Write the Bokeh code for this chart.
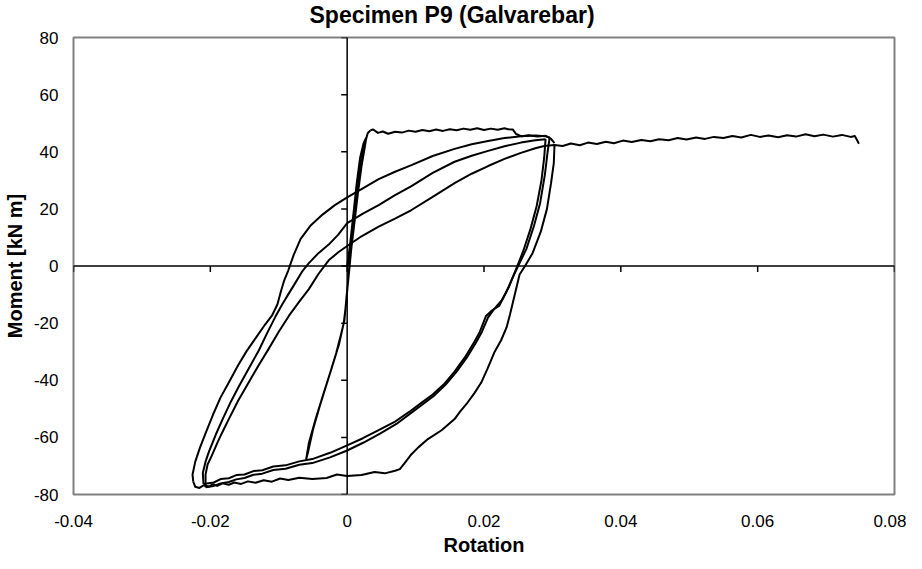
from bokeh.plotting import figure
from bokeh.models import Span, FixedTicker
from bokeh.embed import file_html
from bokeh.resources import INLINE

# ---------------- data (rotation [-], moment [kN m]) ----------------
elastic_rot = [0, 0.0004, 0.0009, 0.0014, 0.0019, 0.0024, 0.0028,
               0.0026, 0.0021, 0.0016, 0.0011, 0.0006, 0.0002, -0.0001, -0.0004, -0.0009,
               -0.0016, -0.0028, -0.004, -0.005, -0.0057, -0.006,
               -0.0056, -0.0046, -0.0035, -0.0023, -0.0012, -0.0005, -0.0001, 0.0002, 0.0005,
               0.001, 0.0015, 0.002, 0.0025, 0.003, 0.0034]
elastic_mom = [0, 7, 18, 29, 38, 43, 45,
               42, 35, 26, 16, 6, -4, -11, -19, -24,
               -30.5, -39.8, -49, -57.3, -65, -67.7,
               -62, -53.5, -45, -36, -27.5, -20, -12, -3, 5,
               15, 25, 35, 42, 46.5, 47.5]

push1_rot = [0.0034, 0.0038, 0.0045, 0.0052, 0.006, 0.007, 0.008, 0.009, 0.010, 0.011, 0.012,
             0.013, 0.014, 0.015, 0.016, 0.017, 0.018, 0.019, 0.020, 0.021, 0.022, 0.023,
             0.0235, 0.0242, 0.0247, 0.0255, 0.0265, 0.0278, 0.029, 0.0298, 0.0303]
push1_mom = [47.5, 47.8, 46.6, 47.1, 46.3, 47.0, 46.7, 47.4, 47.0, 47.6, 47.2,
             47.8, 47.3, 47.9, 47.5, 48.1, 47.7, 48.2, 47.6, 48.1, 47.7, 48.2,
             47.9, 47.8, 46.2, 45.4, 45.8, 45.3, 45.6, 44.5, 43]

pull1_rot = [0.0303, 0.0302, 0.0298, 0.0292, 0.0283, 0.0271, 0.026, 0.0252, 0.0245, 0.0238,
             0.0233, 0.0225, 0.0215, 0.0205, 0.0196, 0.0186, 0.0176, 0.0165, 0.0157, 0.0138,
             0.0118, 0.0104, 0.0094, 0.0084, 0.0077, 0.007, 0.0055, 0.004, 0.0021, 0, -0.0015,
             -0.003, -0.0051, -0.007, -0.0086, -0.0098, -0.011, -0.0122, -0.0134, -0.0145,
             -0.0155, -0.0165, -0.0173, -0.0182, -0.019, -0.0196, -0.0202, -0.021, -0.0216,
             -0.0222, -0.0225]
pull1_mom = [42, 36, 29, 20, 12, 4.5, 0, -3, -10, -17,
             -21.5, -26, -30.3, -36, -40.8, -44.5, -47.8, -51, -53.6, -57.5,
             -60.6, -63.5, -65.9, -69, -71.1, -71.7, -72.6, -72.1, -73.2, -73.5, -73.0,
             -74.2, -74.6, -74.1, -74.9, -74.4, -75.5, -75.0, -75.9, -75.4,
             -76.3, -75.8, -76.6, -76.1, -77.0, -76.4, -77.2, -76.8, -77.7,
             -77.3, -75.5]

push2_rot = [-0.0225, -0.0226, -0.0222, -0.0215, -0.0206, -0.0196, -0.0185, -0.0173, -0.016,
             -0.0147, -0.0133, -0.012, -0.011, -0.0102, -0.0097, -0.0092, -0.0086, -0.0078,
             -0.0068, -0.0053, -0.0036, -0.0018, 0, 0.0021, 0.0046, 0.007, 0.0094, 0.0125,
             0.0157, 0.0182, 0.0206, 0.023, 0.0254, 0.0275, 0.029, 0.0296]
push2_mom = [-75.5, -73, -68.5, -63.5, -58, -52, -46, -40.8, -35,
             -29.8, -25, -20.5, -17.4, -13.5, -9, -5, -1.5, 4,
             9.5, 14.3, 18, 21.3, 24, 26.9, 30.4, 33, 35.3, 38.5,
             41, 42.6, 43.8, 44.8, 45.4, 45.7, 45.4, 45]

pull2_rot = [0.0296, 0.0293, 0.0289, 0.0282, 0.0273, 0.0262, 0.0252, 0.0242, 0.0232, 0.0222,
             0.0212, 0.0203, 0.0194, 0.0186, 0.0172, 0.0157, 0.0141, 0.0125, 0.0108, 0.0094,
             0.007, 0.0046, 0.0023, 0, -0.0025, -0.0051, -0.007, -0.009, -0.0108, -0.0124,
             -0.0137, -0.015, -0.0162, -0.0173, -0.0185, -0.0195, -0.021]
pull2_mom = [45, 40, 32, 22, 14, 6, 1, -4, -9.5, -14,
             -15.5, -17.5, -23, -26.5, -32, -37, -41.5, -45, -48, -50.5,
             -54.5, -57.5, -60.3, -62.8, -65.4, -67.6, -68.4, -69.8, -70.2, -71.5,
             -71.8, -73.0, -73.2, -74.3, -74.6, -75.8, -76.3]

push3_rot = [-0.021, -0.0211, -0.0207, -0.0202, -0.0192, -0.0182, -0.017, -0.0158, -0.0143,
             -0.0129, -0.0117, -0.0105, -0.0095, -0.0085, -0.0076, -0.0066, -0.0056, -0.0042,
             -0.0027, -0.0013, 0, 0.0023, 0.0046, 0.007, 0.0094, 0.0125, 0.0157, 0.0182,
             0.0206, 0.023, 0.0254, 0.0275, 0.029]
push3_mom = [-76.3, -72.5, -68.5, -65, -59, -53.6, -47.5, -42, -35.5,
             -29.5, -23.5, -17.8, -13.5, -9.5, -6, -2, 1, 4.5,
             7.5, 11, 15, 18.3, 21.3, 24.8, 28, 32.6, 36.5, 38.6,
             40.3, 41.9, 43.2, 44, 44.4]

pull3_rot = [0.029, 0.0288, 0.0284, 0.0277, 0.0268, 0.0257, 0.0247, 0.0237, 0.0226, 0.0215,
             0.0206, 0.0197, 0.0189, 0.0175, 0.016, 0.0144, 0.0128, 0.011, 0.0096, 0.0072,
             0.0048, 0.0024, 0, -0.0025, -0.0051, -0.007, -0.009, -0.0108, -0.0124, -0.0137,
             -0.015, -0.0162, -0.0173, -0.0185, -0.0195, -0.0207]
pull3_mom = [44.4, 38, 30, 21, 13, 5, -1, -7, -12, -15,
             -18, -23, -26.5, -32, -37, -41.5, -45.2, -48.5, -51, -55.3,
             -58.7, -61.8, -64.6, -67, -69, -69.6, -71, -71.4, -72.7, -73.1,
             -74.2, -74.7, -75.6, -76.1, -77, -77.5]

push4_rot = [-0.0207, -0.0207, -0.0204, -0.0198, -0.0189, -0.018, -0.0173, -0.0159, -0.0144,
             -0.013, -0.0115, -0.01, -0.0085, -0.007, -0.0056, -0.0042, -0.0027, -0.0013, 0,
             0.0021, 0.0046, 0.007, 0.0094, 0.0125, 0.0157, 0.0182, 0.0206, 0.023, 0.0254,
             0.0275, 0.0288, 0.0303, 0.0315, 0.0327, 0.034, 0.0352, 0.0365, 0.0378, 0.039,
             0.0403, 0.0416, 0.043, 0.0443, 0.0456, 0.047, 0.0483, 0.0496, 0.051, 0.0523,
             0.0536, 0.055, 0.0563, 0.0576, 0.059, 0.0603, 0.0616, 0.063, 0.0643, 0.0656,
             0.067, 0.0683, 0.0696, 0.071, 0.0723, 0.0736, 0.0742, 0.0745, 0.0748]
push4_mom = [-77.5, -73, -69.5, -66.5, -61.5, -57, -53.6, -47, -40.8,
             -35, -29.1, -23, -17.4, -12.5, -8.1, -2.8, 2, 4.8, 7,
             10.4, 13.8, 16.6, 19.6, 24.2, 29, 32.3, 35, 37.5, 39.6,
             41.2, 42, 42.4, 42.0, 42.9, 42.3, 43.2, 42.7, 43.5, 43.0,
             43.9, 43.4, 44.1, 43.7, 44.4, 44.0, 44.8, 44.3, 45.0, 44.5,
             45.2, 44.8, 45.5, 45.0, 45.9, 45.2, 45.7, 45.1, 45.8, 45.3,
             46.1, 45.4, 46.0, 45.3, 45.9, 45.2, 45.5, 44.2, 42.8]

branches = [(elastic_rot, elastic_mom), (push1_rot, push1_mom), (pull1_rot, pull1_mom),
            (push2_rot, push2_mom), (pull2_rot, pull2_mom), (push3_rot, push3_mom),
            (pull3_rot, pull3_mom), (push4_rot, push4_mom)]

x_ticks = [-0.04, -0.02, 0, 0.02, 0.04, 0.06, 0.08]
x_tick_labels = ["-0.04", "-0.02", "0", "0.02", "0.04", "0.06", "0.08"]
y_ticks = [-80, -60, -40, -20, 0, 20, 40, 60, 80]
y_tick_labels = ["-80", "-60", "-40", "-20", "0", "20", "40", "60", "80"]
title_text = "Specimen P9 (Galvarebar)"

# ---------------- figure ----------------
LIFT = 14                              # figure is shifted up so the title can sit high
W, H = 906, 574
FL, FT, FR, FB = 69, 51, 894, 508      # frame edges inside the figure
XMIN, XMAX, YMIN, YMAX = -0.04, 0.08, -80, 80

p = figure(width=W, height=H, output_backend="svg", toolbar_location=None,
           x_range=(XMIN, XMAX), y_range=(YMIN, YMAX),
           min_border_left=FL, min_border_top=FT,
           min_border_right=W - FR, min_border_bottom=H - FB,
           margin=(-LIFT, 0, 0, 0))

p.background_fill_color = "white"
p.border_fill_color = "white"
p.outline_line_color = "#808080"
p.outline_line_width = 2
p.xgrid.visible = False
p.ygrid.visible = False

FONT = "Liberation Sans"
p.title.text = title_text
p.title.text_font = FONT
p.title.text_font_style = "bold"
p.title.text_font_size = "23px"
p.title.text_color = "black"
p.title.align = "left"
p.title.offset = 236
p.title.vertical_align = "top"
p.title.standoff = 16

for ax, ticks, labels, lab in ((p.xaxis[0], x_ticks, x_tick_labels, "Rotation"),
                               (p.yaxis[0], y_ticks, y_tick_labels, "Moment [kN m]")):
    ax.ticker = FixedTicker(ticks=ticks)
    ax.major_label_overrides = {t: l for t, l in zip(ticks, labels)}
    ax.axis_line_color = None
    ax.major_tick_line_color = None
    ax.minor_tick_line_color = None
    ax.major_tick_out = 0
    ax.major_tick_in = 0
    ax.major_label_text_font = FONT
    ax.major_label_text_font_size = "17px"
    ax.major_label_text_color = "black"
    ax.axis_label = lab
    ax.axis_label_text_font = FONT
    ax.axis_label_text_font_style = "bold"
    ax.axis_label_text_font_size = "20px"
    ax.axis_label_text_color = "black"

p.xaxis.major_label_standoff = 20
p.xaxis.axis_label_standoff = 4
p.yaxis.major_label_standoff = 15
p.yaxis.axis_label_standoff = 5

# zero axes
p.add_layout(Span(location=0, dimension="height", line_color="black", line_width=1.5))
p.add_layout(Span(location=0, dimension="width", line_color="black", line_width=1.5))

# tick marks on the zero axes (6 px, pointing left / down)
tlx = 6 * (XMAX - XMIN) / (FR - FL)
tly = 6 * (YMAX - YMIN) / (FB - FT)
p.segment(x0=x_ticks, y0=[0] * len(x_ticks), x1=x_ticks, y1=[-tly] * len(x_ticks),
          line_color="black", line_width=1.5)
p.segment(x0=[0] * len(y_ticks), y0=y_ticks, x1=[-tlx] * len(y_ticks), y1=y_ticks,
          line_color="black", line_width=1.5)

for rx, my in branches:
    p.line(rx, my, line_color="black", line_width=2, line_join="round")

open("out.html", "w").write(file_html(p, INLINE))
